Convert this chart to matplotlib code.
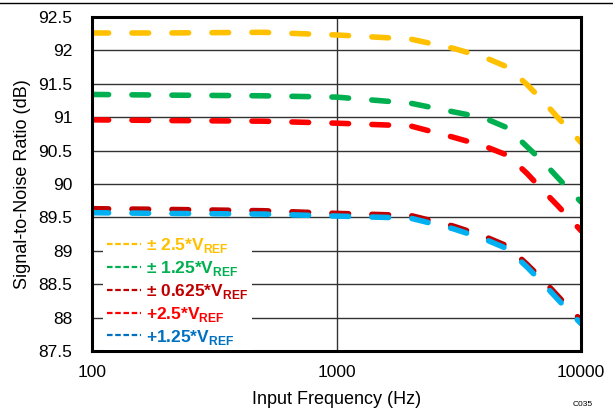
import numpy as np
import matplotlib
matplotlib.use('Agg')
import matplotlib.pyplot as plt
from matplotlib.lines import Line2D

plt.rcParams['font.family'] = ['Liberation Sans', 'DejaVu Sans']
plt.rcParams['mathtext.fontset'] = 'custom'
plt.rcParams['mathtext.bf'] = 'Liberation Sans:bold'
plt.rcParams['mathtext.rm'] = 'Liberation Sans'

# data
freq = [100, 200, 500, 1000, 2000, 3000, 4000, 5000, 6000, 7000, 8000, 9000, 10000]
snr_pm25 = [92.26, 92.26, 92.27, 92.23, 92.17, 92.03, 91.90, 91.75, 91.49, 91.24, 91.00, 90.80, 90.62]
snr_pm125 = [91.34, 91.33, 91.32, 91.30, 91.21, 91.08, 90.99, 90.84, 90.56, 90.33, 90.10, 89.90, 89.73]
snr_pm0625 = [89.63, 89.62, 89.60, 89.56, 89.53, 89.37, 89.22, 89.07, 88.80, 88.56, 88.33, 88.13, 87.96]
snr_p25 = [90.96, 90.95, 90.94, 90.91, 90.87, 90.70, 90.57, 90.43, 90.16, 89.90, 89.68, 89.48, 89.30]
snr_p125 = [89.57, 89.56, 89.55, 89.52, 89.49, 89.33, 89.18, 89.03, 88.76, 88.51, 88.28, 88.08, 87.91]

labels = [r'± 2.5*V$_{\mathbf{REF}}$', r'± 1.25*V$_{\mathbf{REF}}$', r'± 0.625*V$_{\mathbf{REF}}$',
          r'+2.5*V$_{\mathbf{REF}}$', r'+1.25*V$_{\mathbf{REF}}$']
line_colors = ['#FFC000', '#00B050', '#C00000', '#FF0000', '#00B0F0']
text_colors = ['#FFC000', '#00B050', '#C00000', '#FF0000', '#0070C0']
series = [snr_pm25, snr_pm125, snr_pm0625, snr_p25, snr_p125]

fig = plt.figure(figsize=(6.13, 4.13), dpi=100)
ax = fig.add_axes([0.150, 0.150, 0.798, 0.809])

for y, c in zip(series, line_colors):
    ax.plot(freq, y, color=c, lw=4.0, dashes=(3.0, 4.2), dash_capstyle='round')

ax.set_xscale('log')
ax.set_xlim(100, 10000)
ax.set_ylim(87.5, 92.5)
ax.set_yticks(np.arange(87.5, 92.51, 0.5))
ax.set_yticklabels(['87.5', '88', '88.5', '89', '89.5', '90', '90.5', '91', '91.5', '92', '92.5'])
ax.set_xticks([100, 1000, 10000])
ax.set_xticklabels(['100', '1000', '10000'])
ax.minorticks_off()
ax.tick_params(axis='both', length=0, labelsize=12.5)
ax.tick_params(axis='y', pad=14)
ax.tick_params(axis='x', pad=10)
ax.grid(True, color='#333333', lw=1.0)
for s in ax.spines.values():
    s.set_linewidth(2.2)

ax.set_xlabel('Input Frequency (Hz)', fontsize=13, labelpad=8)
ax.set_ylabel('Signal-to-Noise Ratio (dB)', fontsize=13, labelpad=5)

handles = [Line2D([], [], color=c, lw=1.6, dashes=(2.5, 1.2)) for c in text_colors]
leg = ax.legend(handles, labels, loc='upper left', bbox_to_anchor=(0.005, 0.38),
                frameon=True, facecolor='white', edgecolor='none', framealpha=1,
                fancybox=False, handlelength=2.0, handletextpad=0.3, labelspacing=0.22,
                borderpad=0.2, prop={'weight': 'bold', 'size': 12.5})
for t, c in zip(leg.get_texts(), text_colors):
    t.set_color(c)

fig.add_artist(Line2D([0, 1], [0.993, 0.993], color='black', lw=1.0, transform=fig.transFigure))
fig.text(0.951, 0.012, 'C035', fontsize=6, ha='center', va='bottom')

fig.savefig('out.png', dpi=100)
